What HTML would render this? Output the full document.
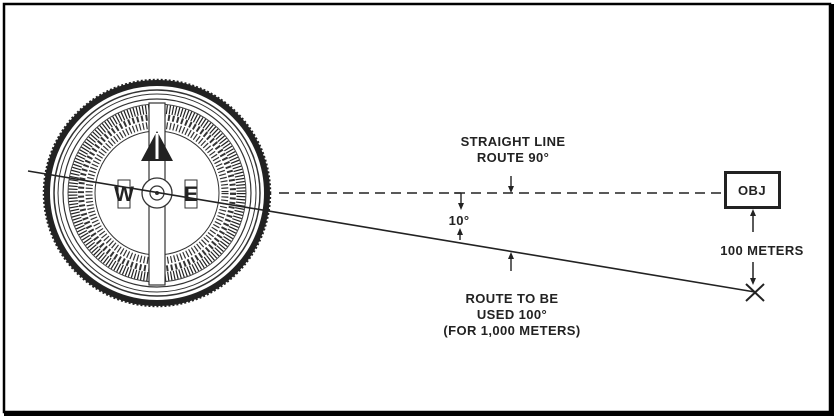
<!DOCTYPE html>
<html><head><style>
html,body{margin:0;padding:0;background:#fff;}
svg{display:block;}
text{font-family:"Liberation Sans",Arial,sans-serif;font-weight:bold;font-size:13px;letter-spacing:0.4px;fill:#222;}
</style></head><body>
<svg width="835" height="416" viewBox="0 0 835 416" xmlns="http://www.w3.org/2000/svg">
<rect x="0" y="0" width="835" height="416" fill="#fff"/>
<!-- frame -->
<rect x="4" y="4" width="826" height="408" fill="none" stroke="#000" stroke-width="2.5"/>
<rect x="829" y="4" width="5" height="412" fill="#000"/>
<rect x="4" y="411" width="830" height="5" fill="#000"/>

<!-- compass -->
<g transform="translate(157,193)">
  <circle r="110" fill="#fff" stroke="#222" stroke-width="6"/>
  <circle r="113" fill="none" stroke="#222" stroke-width="2.5" stroke-dasharray="2 2"/>
  <circle r="103" fill="none" stroke="#333" stroke-width="1.5"/>
  <circle r="99" fill="none" stroke="#333" stroke-width="1"/>
  <circle r="94" fill="none" stroke="#333" stroke-width="1.2"/>
  <circle r="89" fill="none" stroke="#444" stroke-width="1"/>
  <!-- tick bands -->
  <circle r="84" fill="none" stroke="#222" stroke-width="9" stroke-dasharray="1.2 1.8"/>
  <circle r="76" fill="none" stroke="#333" stroke-width="6" stroke-dasharray="2 2.5"/>
  <circle r="68" fill="none" stroke="#333" stroke-width="7" stroke-dasharray="1.2 2.2"/>
  <circle r="62" fill="none" stroke="#333" stroke-width="1"/>
  <!-- needle band -->
  <rect x="-8" y="-90" width="16" height="182" fill="#fff" stroke="#333" stroke-width="1.2"/>
  <polygon points="0,-62 -16,-32 16,-32" fill="#222"/>
  <rect x="-1.5" y="-60" width="3" height="26" fill="#fff"/>
  <circle r="15" fill="#fff" stroke="#333" stroke-width="1.3"/>
  <circle r="7" fill="#fff" stroke="#333" stroke-width="1.2"/>
  <circle r="2" fill="#333"/>
  <!-- W / E -->
  <rect x="-39" y="-13" width="12" height="28" fill="#fff" stroke="#333" stroke-width="1"/>
  <text x="-33" y="8" text-anchor="middle" style="font-size:21px;letter-spacing:0">W</text>
  <rect x="28" y="-13" width="12" height="28" fill="#fff" stroke="#333" stroke-width="1"/>
  <text x="34" y="8" text-anchor="middle" style="font-size:21px;letter-spacing:0">E</text>
</g>

<!-- solid route line -->
<line x1="28" y1="171" x2="755" y2="292" stroke="#222" stroke-width="1.6"/>
<!-- dashed straight line -->
<line x1="279" y1="193" x2="724" y2="193" stroke="#222" stroke-width="1.6" stroke-dasharray="10 6"/>

<!-- OBJ box -->
<rect x="725.5" y="172.5" width="54" height="35" fill="#fff" stroke="#222" stroke-width="3"/>
<text x="752" y="195" text-anchor="middle">OBJ</text>

<!-- X -->
<line x1="746" y1="284" x2="764" y2="301" stroke="#222" stroke-width="2"/>
<line x1="764" y1="284" x2="746" y2="301" stroke="#222" stroke-width="2"/>

<!-- 100 meters arrows -->
<line x1="753" y1="212" x2="753" y2="232" stroke="#222" stroke-width="1.5"/>
<polygon points="753,209 750,216 756,216" fill="#222"/>
<line x1="753" y1="262" x2="753" y2="282" stroke="#222" stroke-width="1.5"/>
<polygon points="753,285 750,278 756,278" fill="#222"/>
<text x="762" y="255" text-anchor="middle">100 METERS</text>

<!-- labels -->
<text x="513" y="146" text-anchor="middle">STRAIGHT LINE</text>
<text x="513" y="162" text-anchor="middle">ROUTE 90°</text>
<line x1="511" y1="176" x2="511" y2="190" stroke="#222" stroke-width="1.4"/>
<polygon points="511,193 508,186 514,186" fill="#222"/>

<line x1="454" y1="193" x2="461" y2="193" stroke="#222" stroke-width="1.4"/>
<line x1="461" y1="193" x2="461" y2="208" stroke="#222" stroke-width="1.4"/>
<polygon points="461,210 458,203 464,203" fill="#222"/>
<text x="459" y="225" text-anchor="middle">10°</text>
<line x1="460" y1="230" x2="460" y2="240" stroke="#222" stroke-width="1.4"/>
<polygon points="460,228 457,235 463,235" fill="#222"/>

<line x1="511" y1="255" x2="511" y2="271" stroke="#222" stroke-width="1.4"/>
<polygon points="511,252 508,259 514,259" fill="#222"/>

<text x="512" y="303" text-anchor="middle">ROUTE TO BE</text>
<text x="512" y="319" text-anchor="middle">USED 100°</text>
<text x="512" y="335" text-anchor="middle">(FOR 1,000 METERS)</text>
</svg>
</body></html>
